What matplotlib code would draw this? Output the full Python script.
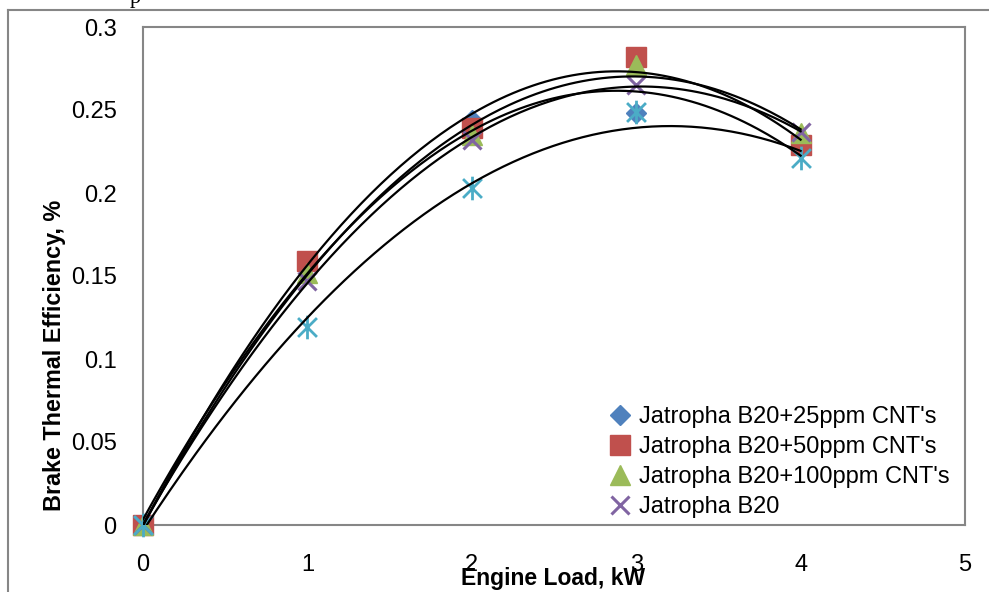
import numpy as np
import matplotlib.pyplot as plt
from matplotlib.path import Path
from matplotlib.lines import Line2D

# Carga do motor (kW) e eficiencia termica (fracao)
load = [0, 1, 2, 3, 4]
b20_25ppm = [0, 0.156, 0.244, 0.248, 0.228]
b20_50ppm = [0, 0.159, 0.239, 0.282, 0.229]
b20_100ppm = [0, 0.152, 0.235, 0.277, 0.236]
b20 = [0, 0.147, 0.232, 0.265, 0.237]
diesel = [0, 0.119, 0.203, 0.249, 0.221]

labels = ["Jatropha B20+25ppm CNT's", "Jatropha B20+50ppm CNT's",
          "Jatropha B20+100ppm CNT's", "Jatropha B20"]

narrow = ['Liberation Sans Narrow', 'Liberation Sans', 'DejaVu Sans']
regular = ['Liberation Sans', 'DejaVu Sans']

# marcador asterisco (estilo Excel)
star = Path([(-1, -1), (1, 1), (-1, 1), (1, -1), (0, -1.25), (0, 1.25)],
            [Path.MOVETO, Path.LINETO, Path.MOVETO, Path.LINETO, Path.MOVETO, Path.LINETO])

fig = plt.figure(figsize=(9.89, 5.92), dpi=100)
ax = fig.add_axes([143/989, 1 - 525/592, 822/989, 498/592])

series = [
    (b20_25ppm, 'D', '#4F81BD', 10, None),
    (b20_50ppm, 's', '#C0504D', 14, None),
    (b20_100ppm, '^', '#9BBB59', 14, None),
    (b20, 'x', '#8064A2', 13, 2.2),
    (diesel, star, '#4BACC6', 17, 2.0),
]

handles = []
for vals, mk, col, ms, mew in series:
    if mew is None:
        h, = ax.plot(load, vals, ls='none', marker=mk, color=col, ms=ms, mec=col,
                     zorder=3, clip_on=False)
    else:
        h, = ax.plot(load, vals, ls='none', marker=mk, color=col, ms=ms, mew=mew,
                     zorder=3, clip_on=False)
    handles.append(h)

# linhas de tendencia polinomiais (ordem 2)
xx = np.linspace(0, 4, 200)
for vals, *_ in series:
    c = np.polyfit(load, vals, 2)
    ax.plot(xx, np.polyval(c, xx), color='black', lw=1.6, zorder=4)

ax.set_xlim(0, 5)
ax.set_ylim(0, 0.3)
ax.set_xticks([0, 1, 2, 3, 4, 5])
ax.set_xticklabels(['0', '1', '2', '3', '4', '5'])
ax.set_yticks([0, 0.05, 0.1, 0.15, 0.2, 0.25, 0.3])
ax.set_yticklabels(['0', '0.05', '0.1', '0.15', '0.2', '0.25', '0.3'])
ax.tick_params(length=0, labelsize=17)
ax.tick_params(axis='x', pad=21)
ax.tick_params(axis='y', pad=19)
for t in ax.get_xticklabels() + ax.get_yticklabels():
    t.set_family(narrow)
for s in ax.spines.values():
    s.set_color('#868686')
    s.set_linewidth(1.5)

fig.text(553/989, 1 - 578/592, 'Engine Load, kW', ha='center', va='center',
         fontsize=16.5, fontweight='bold', family=narrow)
fig.text(55/989, 1 - 355/592, 'Brake Thermal Efficiency, %', ha='center', va='center',
         rotation=90, fontsize=16.8, fontweight='bold', family=narrow)

leg = fig.legend(handles[:4], labels, loc='upper left',
                 bbox_to_anchor=(608/989, 1 - 406/592), frameon=False,
                 prop={'family': regular, 'size': 17}, handlelength=1.0,
                 handletextpad=0.3, labelspacing=0.34, borderpad=0, borderaxespad=0)

# borda externa do grafico original (recortado)
fig.add_artist(Line2D([8/989, 1], [1 - 10/592, 1 - 10/592], color='#868686', lw=1.5))
fig.add_artist(Line2D([8/989, 8/989], [0, 1 - 10/592], color='#868686', lw=1.5))
fig.text(135/989, 1 - 3/592, 'p', ha='center', va='baseline', fontsize=16,
         family=['Liberation Serif', 'DejaVu Serif'])

fig.savefig('out.png', dpi=100)
